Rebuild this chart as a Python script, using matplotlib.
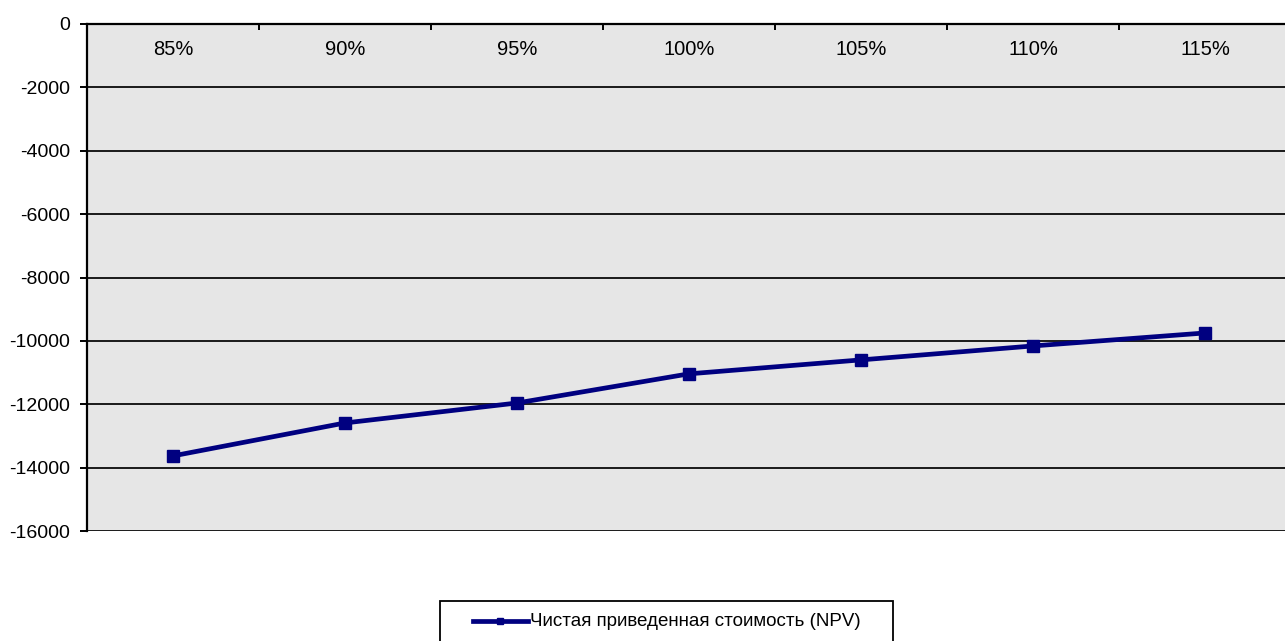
import matplotlib.pyplot as plt
from matplotlib.lines import Line2D
from matplotlib.patches import Rectangle

plt.rcParams['font.family'] = ['Liberation Sans', 'DejaVu Sans']

categories = ['85%', '90%', '95%', '100%', '105%', '110%', '115%']
npv = [-13630, -12590, -11960, -11040, -10600, -10160, -9750]
series_name = 'Чистая приведенная стоимость (NPV)'
yticks = list(range(-16000, 1, 2000))

W, H = 1285, 641
navy = '#000080'

fig = plt.figure(figsize=(W / 100, H / 100), dpi=100)
ax = fig.add_axes([87 / W, 1 - 531 / H, (1291 - 87) / W, (531 - 24) / H])
ax.set_facecolor('#e6e6e6')

x = list(range(len(categories)))
ax.plot(x, npv, color=navy, lw=3.4, marker='s', ms=9, zorder=3)

ax.set_xlim(-0.5, len(categories) - 0.5)
ax.set_ylim(-16000, 0)
ax.set_yticks(yticks)
ax.set_yticklabels([str(v) for v in yticks], fontsize=14)
ax.grid(axis='y', color='#1a1a1a', lw=1.4)
ax.set_axisbelow(True)

# category labels sit just under the top (zero) axis
ax.set_xticks(x)
ax.set_xticklabels(categories, fontsize=14.5)
ax.tick_params(axis='x', which='major', top=True, labeltop=True, bottom=False,
               labelbottom=False, length=0, pad=-25)
ax.set_xticks([i + 0.5 for i in x[:-1]], minor=True)
ax.tick_params(axis='x', which='minor', top=True, bottom=False, direction='in',
               length=4, width=1.4, color='black')
ax.tick_params(axis='y', direction='out', length=5, width=1.4, pad=7)

for s in ['right', 'bottom']:
    ax.spines[s].set_visible(False)
for s in ['left', 'top']:
    ax.spines[s].set_linewidth(1.6)
    ax.spines[s].set_color('black')

# legend box, drawn by hand to get the Excel-like padding
fig.add_artist(Rectangle((440 / W, 1 - 645 / H), 453 / W, 44 / H,
                         transform=fig.transFigure, facecolor='white',
                         edgecolor='black', lw=1.3))
ly = 1 - 621 / H
fig.add_artist(Line2D([473 / W, 500 / W, 528 / W], [ly, ly, ly],
                      transform=fig.transFigure, color=navy, lw=3.4,
                      marker='s', ms=4, markevery=[1]))
fig.text(530 / W, ly, series_name, fontsize=13.5, va='center', ha='left')

fig.savefig('out.png', dpi=100)
